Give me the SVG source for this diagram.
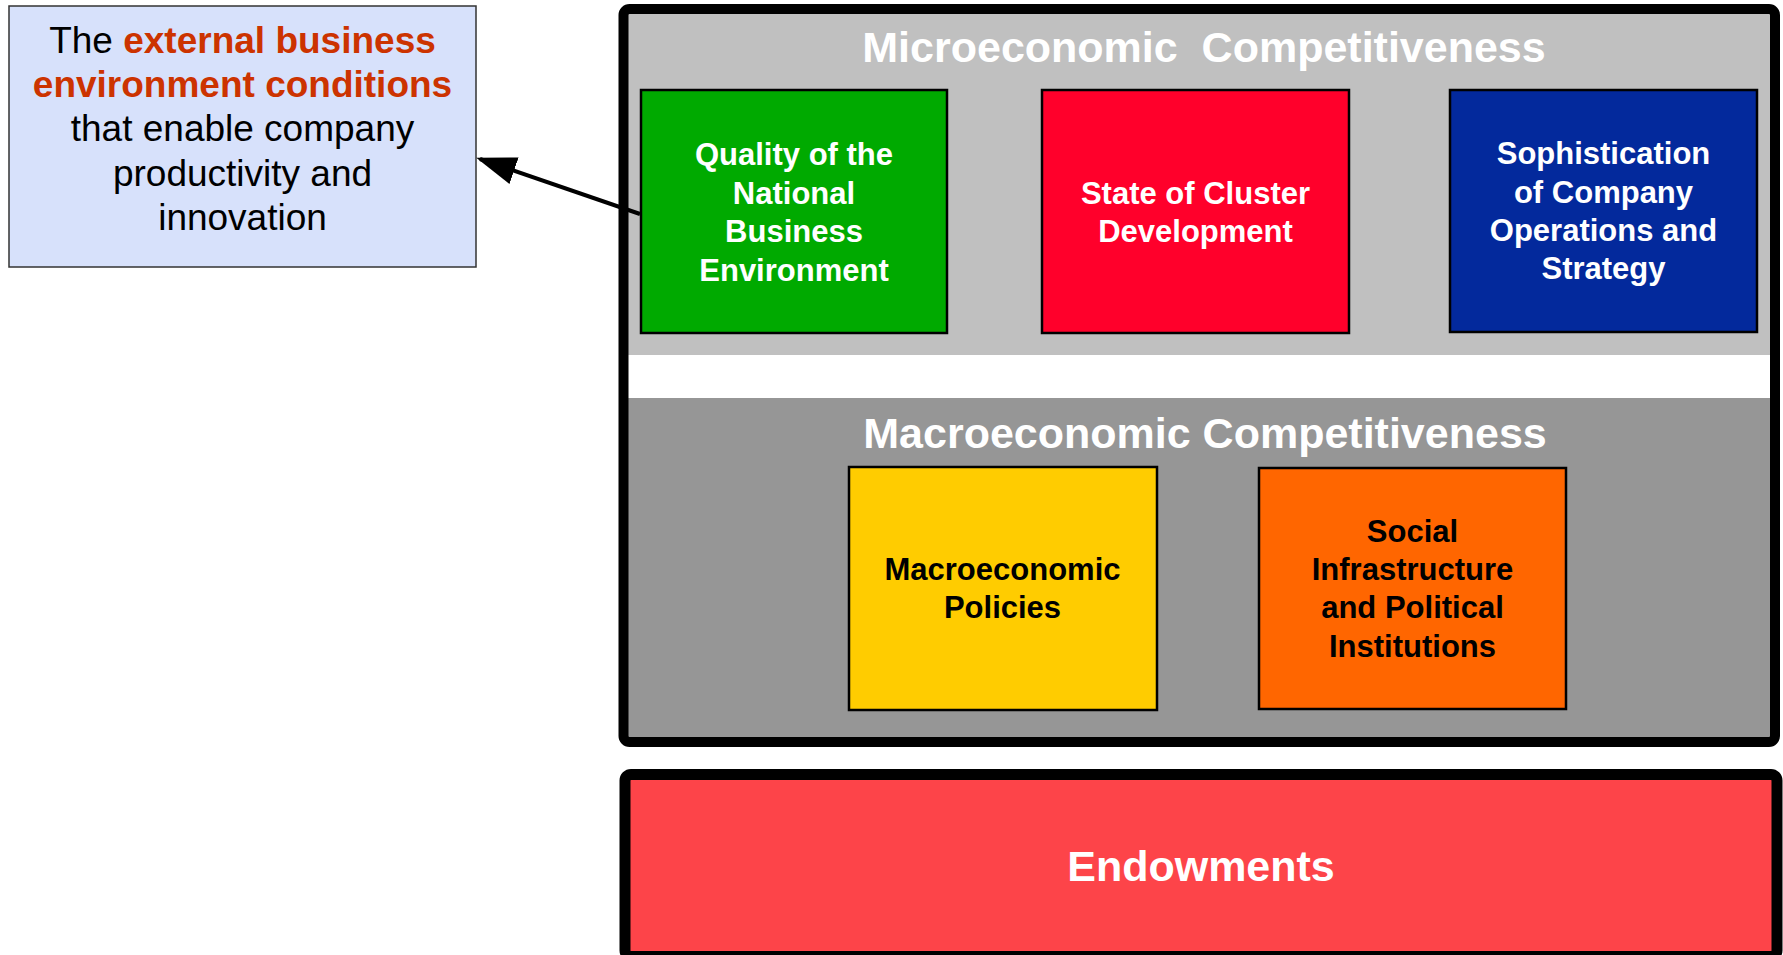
<svg xmlns="http://www.w3.org/2000/svg" width="1783" height="955" viewBox="0 0 1783 955">
<defs>
<style>
.t{font-family:"Liberation Sans",Arial,sans-serif;font-weight:bold;text-anchor:middle}
.w{fill:#fff}
.k{fill:#000}
.pre{white-space:pre}
.box{stroke:#000;stroke-width:2.5}
.note{font-family:"Liberation Sans",Arial,sans-serif;font-size:37px;text-anchor:middle;fill:#000}
.hl{font-weight:bold;fill:#CC3300}
</style>
<marker id="ah" markerWidth="10" markerHeight="7" refX="9" refY="3.5" orient="auto" markerUnits="strokeWidth">
<path d="M0,0 L10,3.5 L0,7 Z" fill="#000"/>
</marker>
</defs>
<rect width="1783" height="955" fill="#fff"/>

<g id="competitiveness">
<rect x="623" y="9" width="1152" height="733" fill="#fff"/>
<rect x="628" y="14" width="1142" height="341" fill="#C0C0C0"/>
<rect x="628" y="398" width="1142" height="340" fill="#969696"/>
<rect x="623.5" y="9" width="1151.5" height="733" fill="none" stroke="#000" stroke-width="10" rx="6"/>
<text class="t w pre" x="1204" y="62" font-size="43" xml:space="preserve">Microeconomic  Competitiveness</text>
<text class="t w" x="1205" y="448" font-size="43">Macroeconomic Competitiveness</text>
</g>

<g id="note">
<rect x="9" y="6" width="467" height="261" fill="#D7E1FB" stroke="#333" stroke-width="1.5"/>
<text class="note" x="242.5" y="53">The <tspan class="hl">external business</tspan></text>
<text class="note hl" x="242.5" y="97">environment conditions</text>
<text class="note" x="242.5" y="141">that enable company</text>
<text class="note" x="242.5" y="186">productivity and</text>
<text class="note" x="242.5" y="230">innovation</text>
</g>

<g id="quality">
<rect class="box" x="641" y="90" width="306" height="243" fill="#00AA00"/>
<text class="t w" font-size="31" x="794" y="165">Quality of the</text>
<text class="t w" font-size="31" x="794" y="204">National</text>
<text class="t w" font-size="31" x="794" y="242">Business</text>
<text class="t w" font-size="31" x="794" y="281">Environment</text>
</g>

<g id="cluster">
<rect class="box" x="1042" y="90" width="307" height="243" fill="#FF002B"/>
<text class="t w" font-size="31" x="1195.5" y="204">State of Cluster</text>
<text class="t w" font-size="31" x="1195.5" y="242">Development</text>
</g>

<g id="sophistication">
<rect class="box" x="1450" y="90" width="307" height="242" fill="#03299C"/>
<text class="t w" font-size="31" x="1603.5" y="164">Sophistication</text>
<text class="t w" font-size="31" x="1603.5" y="203">of Company</text>
<text class="t w" font-size="31" x="1603.5" y="241">Operations and</text>
<text class="t w" font-size="31" x="1603.5" y="279">Strategy</text>
</g>

<g id="macropolicies">
<rect class="box" x="849" y="467" width="308" height="243" fill="#FFCC00"/>
<text class="t k" font-size="31" x="1002.5" y="580">Macroeconomic</text>
<text class="t k" font-size="31" x="1002.5" y="618">Policies</text>
</g>

<g id="social">
<rect class="box" x="1259" y="468" width="307" height="241" fill="#FF6600"/>
<text class="t k" font-size="31" x="1412.5" y="542">Social</text>
<text class="t k" font-size="31" x="1412.5" y="580">Infrastructure</text>
<text class="t k" font-size="31" x="1412.5" y="618">and Political</text>
<text class="t k" font-size="31" x="1412.5" y="657">Institutions</text>
</g>

<g id="endowments">
<rect x="625" y="774.5" width="1152" height="182" fill="#FD4449" stroke="#000" stroke-width="11" rx="6"/>
<text class="t w" font-size="43" x="1201" y="881">Endowments</text>
</g>

<g id="connectors">
<line x1="640" y1="214" x2="480" y2="159" stroke="#000" stroke-width="4" marker-end="url(#ah)"/>
</g>
</svg>
